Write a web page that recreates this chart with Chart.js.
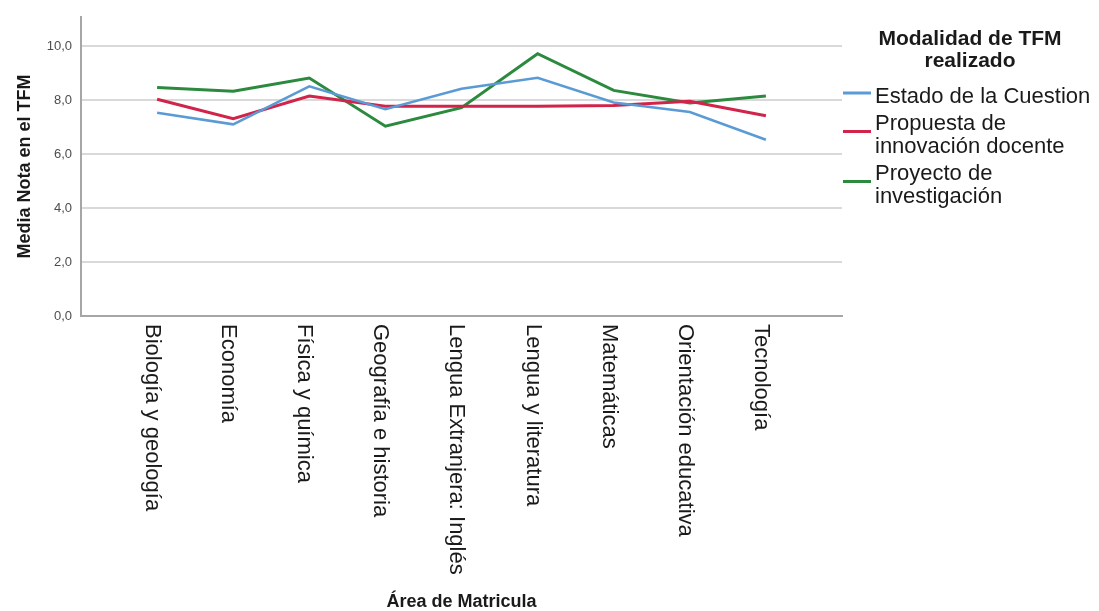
<!DOCTYPE html>
<html lang="es">
<head>
<meta charset="utf-8">
<title>Media Nota en el TFM</title>
<script src="https://cdn.jsdelivr.net/npm/chart.js@4/dist/chart.umd.min.js"></script>
<style>
  html, body { margin: 0; padding: 0; background: #fff; }
  #wrap { width: 1099px; height: 611px; }
</style>
</head>
<body>
<div id="wrap"><canvas id="lineChart" width="1099" height="611"></canvas></div>
<script>
// data
const categories = ['Biología y geología', 'Economía', 'Física y química', 'Geografía e historia',
  'Lengua Extranjera: Inglés', 'Lengua y literatura', 'Matemáticas', 'Orientación educativa', 'Tecnología'];
const estadoCuestion = [7.54, 7.11, 8.52, 7.67, 8.43, 8.84, 7.92, 7.57, 6.54];
const propuestaInnovacion = [8.04, 7.32, 8.16, 7.78, 7.78, 7.78, 7.81, 7.97, 7.43];
const proyectoInvestigacion = [8.48, 8.34, 8.83, 7.04, 7.73, 9.73, 8.37, 7.90, 8.16];
const seriesNames = ['Estado de la Cuestion', 'Propuesta de innovación docente', 'Proyecto de investigación'];
const seriesColors = ['#5a9bd5', '#d2234a', '#2b8a3e'];
const yTicks = [0, 2, 4, 6, 8, 10];
const legendTitle = ['Modalidad de TFM', 'realizado'];
const xTitle = 'Área de Matricula';
const yTitle = 'Media Nota en el TFM';

const FONT = "'Liberation Sans', Arial, sans-serif";

function toPoints(values) {
  return values.map(function (v, i) { return { x: i + 1, y: v }; });
}

// vertical category labels, reading top to bottom
const categoryLabels = {
  id: 'categoryLabels',
  afterDraw: function (chart) {
    const ctx = chart.ctx;
    const xScale = chart.scales.x;
    ctx.save();
    ctx.font = '22px ' + FONT;
    ctx.fillStyle = '#1a1a1a';
    ctx.textAlign = 'left';
    ctx.textBaseline = 'middle';
    categories.forEach(function (label, i) {
      const x = xScale.getPixelForValue(i + 1) - 5;
      ctx.save();
      ctx.translate(x, xScale.top + 8);
      ctx.rotate(Math.PI / 2);
      ctx.fillText(label, 0, 0);
      ctx.restore();
    });
    ctx.restore();
  }
};

function wrapText(ctx, text, maxWidth) {
  const words = text.split(' ');
  const lines = [];
  let line = '';
  words.forEach(function (w) {
    const test = line ? line + ' ' + w : w;
    if (line && ctx.measureText(test).width > maxWidth) {
      lines.push(line);
      line = w;
    } else {
      line = test;
    }
  });
  if (line) lines.push(line);
  return lines;
}

// SPSS style legend on the right with wrapped labels
const sideLegend = {
  id: 'sideLegend',
  afterDraw: function (chart) {
    const ctx = chart.ctx;
    const left = chart.chartArea.right + 1;
    ctx.save();
    ctx.fillStyle = '#1a1a1a';
    ctx.textBaseline = 'middle';

    ctx.font = 'bold 21px ' + FONT;
    ctx.textAlign = 'center';
    legendTitle.forEach(function (t, i) {
      ctx.fillText(t, left + 127, 39 + i * 22);
    });

    ctx.font = '22px ' + FONT;
    ctx.textAlign = 'left';
    let y = 97;
    chart.data.datasets.forEach(function (ds) {
      const lines = wrapText(ctx, ds.label, 1099 - left - 33);
      const mid = y + (lines.length - 1) * 23 / 2;
      ctx.strokeStyle = ds.borderColor;
      ctx.lineWidth = 3;
      ctx.beginPath();
      ctx.moveTo(left, mid - 4);
      ctx.lineTo(left + 28, mid - 4);
      ctx.stroke();
      lines.forEach(function (l, j) {
        ctx.fillText(l, left + 32, y + j * 23);
      });
      y += lines.length * 23 + 4;
    });
    ctx.restore();
  }
};

document.addEventListener('DOMContentLoaded', function () {
  const series = [estadoCuestion, propuestaInnovacion, proyectoInvestigacion];
  const datasets = series.map(function (values, i) {
    return {
      label: seriesNames[i],
      data: toPoints(values),
      borderColor: seriesColors[i],
      backgroundColor: seriesColors[i],
      borderWidth: i === 0 ? 2.5 : 3,
      pointRadius: 0,
      tension: 0
    };
  });

  const ctx = document.getElementById('lineChart').getContext('2d');
  new Chart(ctx, {
    type: 'line',
    data: { datasets: datasets },
    options: {
      responsive: false,
      animation: false,
      layout: { padding: { top: 16, right: 257, bottom: 0, left: 0 } },
      plugins: {
        legend: { display: false },
        tooltip: { enabled: false }
      },
      scales: {
        x: {
          type: 'linear',
          min: 0,
          max: categories.length + 1,
          grid: { display: false },
          border: { display: true, color: '#a6a6a6', width: 2 },
          ticks: { display: false },
          title: {
            display: true,
            text: xTitle,
            color: '#1a1a1a',
            font: { family: FONT, size: 18, weight: 'bold', lineHeight: 1 },
            padding: { top: 0, bottom: 0 }
          },
          afterFit: function (scale) { scale.height = 295; }
        },
        y: {
          min: 0,
          max: 11.1,
          grid: { color: '#d9d9d9', lineWidth: 2, drawTicks: false },
          border: { display: true, color: '#a6a6a6', width: 2 },
          afterBuildTicks: function (scale) {
            scale.ticks = yTicks.map(function (v) { return { value: v }; });
          },
          ticks: {
            padding: 9,
            color: '#4d4d4d',
            font: { family: FONT, size: 13 },
            callback: function (value) { return value.toFixed(1).replace('.', ','); }
          },
          title: {
            display: true,
            text: yTitle,
            color: '#1a1a1a',
            font: { family: FONT, size: 18, weight: 'bold' },
            padding: { top: 14, bottom: 0 }
          },
          afterFit: function (scale) { scale.width = 81; }
        }
      }
    },
    plugins: [categoryLabels, sideLegend]
  });
});
</script>
</body>
</html>
